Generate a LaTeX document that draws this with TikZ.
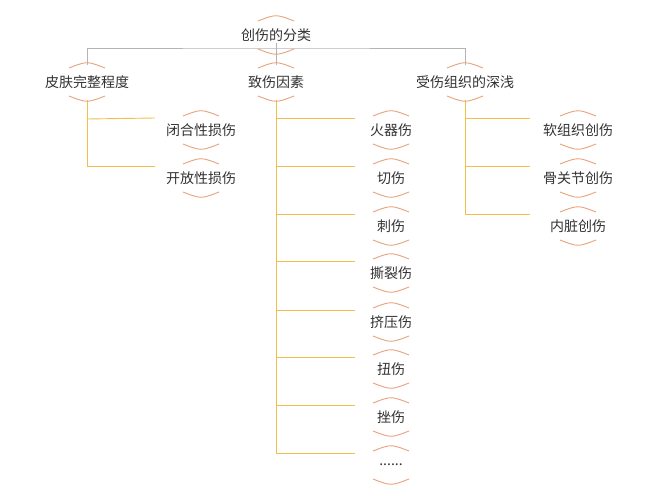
\documentclass[tikz,border=0pt]{standalone}
\usepackage{fontspec}
\newfontfamily\cjk{Noto Sans CJK SC}
\usetikzlibrary{calc}
\definecolor{topline}{HTML}{B4B4B4}
\definecolor{branchline}{HTML}{F2C04A}
\definecolor{arccol}{HTML}{E9A27A}
\tikzset{
  lbl/.style={inner sep=0pt,font=\cjk\fontsize{14}{16}\selectfont,text=black!80},
  trunk/.style={draw=topline,line width=0.9pt},
  branch/.style={draw=branchline,line width=0.9pt},
  arcline/.style={draw=arccol,line width=0.9pt}
}
% orange arcs above and below a label
\newcommand{\arcs}[1]{%
  \draw[arcline] ($(#1)+(-18,-14)$) .. controls ($(#1)+(0,-21)$) .. ($(#1)+(18,-14)$);
  \draw[arcline] ($(#1)+(-18,14)$) .. controls ($(#1)+(0,21)$) .. ($(#1)+(18,14)$);}
\begin{document}
\begin{tikzpicture}[x=1pt,y=-1pt]
        \useasboundingbox[fill=white] (0,0) rectangle (666,500);
        \node[lbl] (root) at (276,35) {创伤的分类};
        \node[lbl] (skin) at (87,82) {皮肤完整程度};
        \node[lbl] (cause) at (276,82) {致伤因素};
        \node[lbl] (depth) at (465,82) {受伤组织的深浅};
        \node[lbl] (closed) at (201,130) {闭合性损伤};
        \node[lbl] (open) at (201,178) {开放性损伤};
        \node[lbl] (fire) at (391,130) {火器伤};
        \node[lbl] (cut) at (391,178) {切伤};
        \node[lbl] (stab) at (391,226) {刺伤};
        \node[lbl] (tear) at (391,273) {撕裂伤};
        \node[lbl] (crush) at (391,322) {挤压伤};
        \node[lbl] (twist) at (391,369) {扭伤};
        \node[lbl] (bruise) at (391,417) {挫伤};
        \node[lbl] (more) at (391,465) {......};
        \node[lbl] (soft) at (578,130) {软组织创伤};
        \node[lbl] (bone) at (578,178) {骨关节创伤};
        \node[lbl] (organ) at (578,226) {内脏创伤};
        % gray tree at top
        \coordinate (bar) at ($(root)+(0,13)$);
        \draw[trunk] ($(root)+(0,8)$) -- (bar);
        \draw[trunk] ($(skin)+(0,-17)$) |- (bar) -| ($(depth)+(0,-17)$);
        \draw[trunk] (bar) -- ($(cause)+(0,-17)$);
        % yellow branches
        \draw[branch] ($(skin)+(0,18)$) |- ($(open)+(-46,-12)$);
        \draw[branch] ($(skin)+(0,37)$) -- ($(closed)+(-46,-12)$);
        \draw[branch] ($(cause)+(0,18)$) |- ($(more)+(-36,-12)$);
        \foreach \n in {fire,cut,stab,tear,crush,twist,bruise}
          \draw[branch] ($(\n)+(-115,-12)$) -- ($(\n)+(-36,-12)$);
        \draw[branch] ($(depth)+(0,18)$) |- ($(organ)+(-48,-12)$);
        \foreach \n in {soft,bone}
          \draw[branch] ($(\n)+(-113,-12)$) -- ($(\n)+(-48,-12)$);
        % arcs
        \foreach \n in {root,skin,cause,depth,closed,open,fire,cut,stab,tear,crush,twist,bruise,more,soft,bone,organ}
          {\arcs{\n}}
\end{tikzpicture}
\end{document}
